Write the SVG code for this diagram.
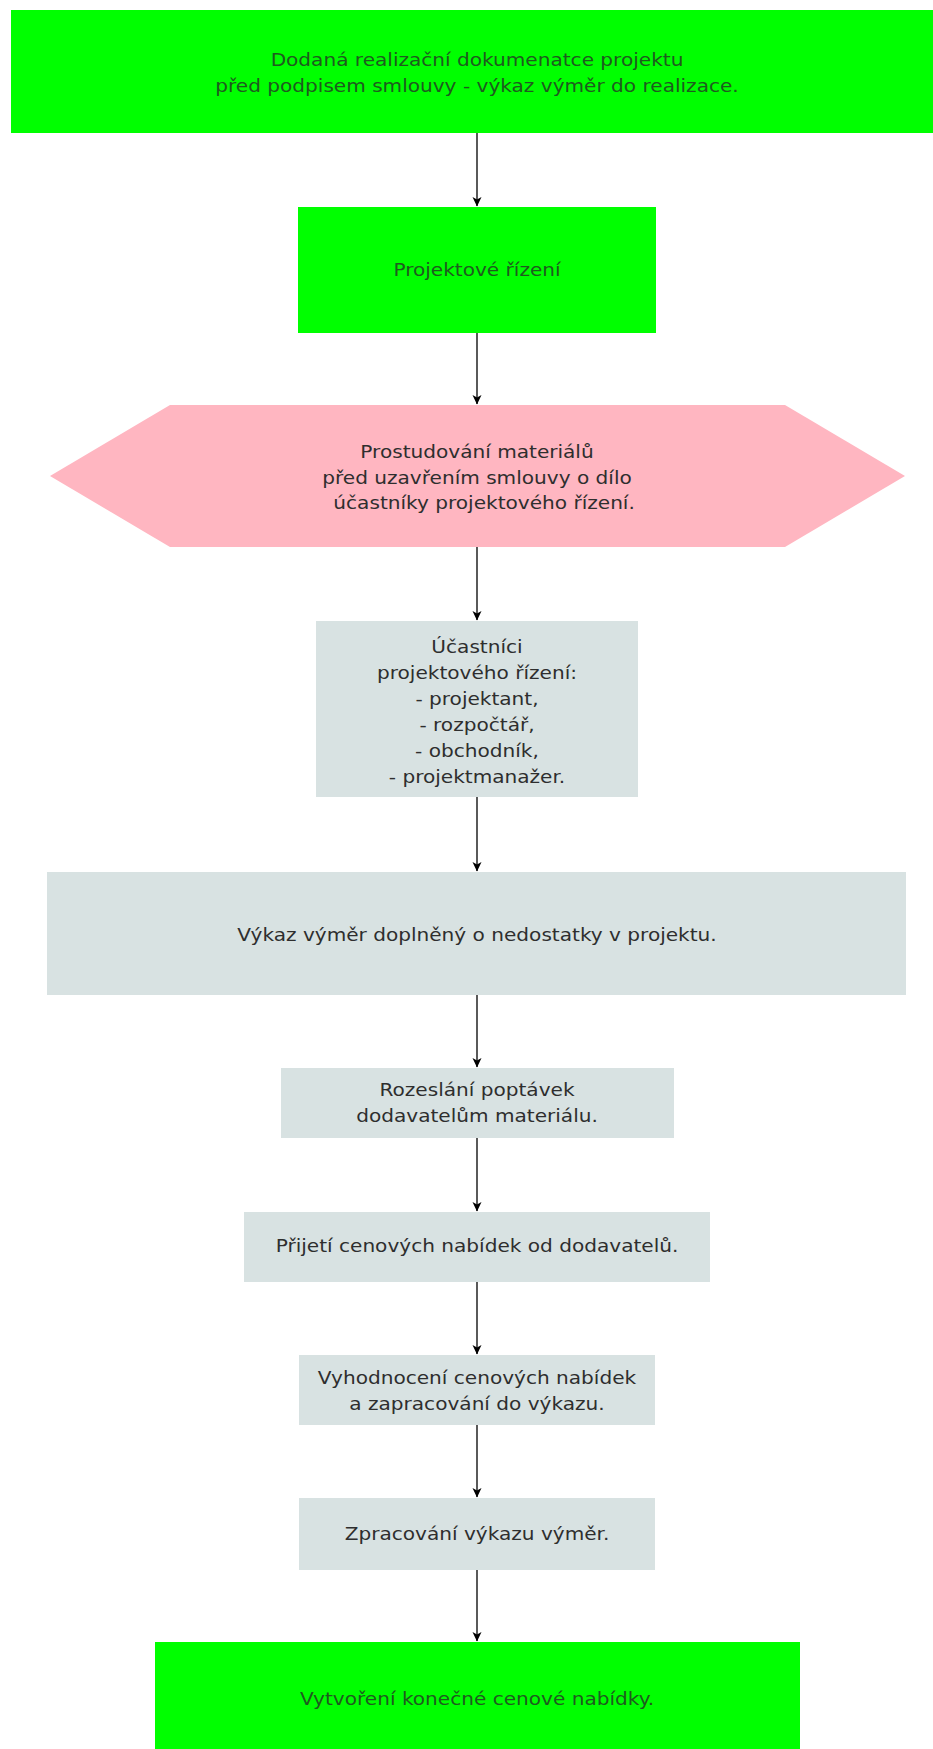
<svg xmlns="http://www.w3.org/2000/svg" width="933" height="1749" viewBox="0 0 933 1749">
<style>
.g{fill:#00ff00}
.p{fill:#ffb6c1}
.s{fill:#d8e2e2}
text{font-family:"DejaVu Sans","Liberation Sans",sans-serif;font-size:18px;text-anchor:middle}
.tg{fill:#1f5a1f}
.ts{fill:#2e2e2e}
.c{stroke:#000;stroke-width:1.3;fill:none}
</style>
<defs>
<marker id="ah" markerWidth="10" markerHeight="10" refX="9" refY="5" orient="auto" markerUnits="userSpaceOnUse">
<path d="M0,0.5 L9.5,5 L0,9.5 L2.5,5 z" fill="#000"/>
</marker>
</defs>
<rect width="933" height="1749" fill="#fff"/>
<g id="n1">
<rect class="g" x="11" y="10" width="922" height="123"/>
<text class="tg" transform="translate(477,66) scale(1.116,1)"><tspan x="0" y="0">Dodaná realizační dokumenatce projektu</tspan><tspan x="0" y="26">před podpisem smlouvy - výkaz výměr do realizace.</tspan></text>
</g>
<g id="n2">
<rect class="g" x="298" y="207" width="358" height="126"/>
<text class="tg" transform="translate(477,276) scale(1.116,1)">Projektové řízení</text>
</g>
<g id="n3">
<polygon class="p" points="50,476 170,405 785,405 905,476 785,547 170,547"/>
<text class="ts" transform="translate(477,458) scale(1.116,1)"><tspan x="0" y="0">Prostudování materiálů</tspan><tspan x="0" y="26">před uzavřením smlouvy o dílo</tspan><tspan x="3.5" y="51"> účastníky projektového řízení.</tspan></text>
</g>
<g id="n4">
<rect class="s" x="316" y="621" width="322" height="176"/>
<text class="ts" transform="translate(477,653) scale(1.116,1)"><tspan x="0" y="0">Účastníci</tspan><tspan x="0" y="26">projektového řízení:</tspan><tspan x="0" y="52">- projektant,</tspan><tspan x="0" y="78">- rozpočtář,</tspan><tspan x="0" y="104">- obchodník,</tspan><tspan x="0" y="130">- projektmanažer.</tspan></text>
</g>
<g id="n5">
<rect class="s" x="47" y="872" width="859" height="123"/>
<text class="ts" transform="translate(477,941) scale(1.116,1)">Výkaz výměr doplněný o nedostatky v projektu.</text>
</g>
<g id="n6">
<rect class="s" x="281" y="1068" width="393" height="70"/>
<text class="ts" transform="translate(477,1096) scale(1.116,1)"><tspan x="0" y="0">Rozeslání poptávek</tspan><tspan x="0" y="26">dodavatelům materiálu.</tspan></text>
</g>
<g id="n7">
<rect class="s" x="244" y="1212" width="466" height="70"/>
<text class="ts" transform="translate(477,1252) scale(1.116,1)">Přijetí cenových nabídek od dodavatelů.</text>
</g>
<g id="n8">
<rect class="s" x="299" y="1355" width="356" height="70"/>
<text class="ts" transform="translate(477,1384) scale(1.116,1)"><tspan x="0" y="0">Vyhodnocení cenových nabídek</tspan><tspan x="0" y="26">a zapracování do výkazu.</tspan></text>
</g>
<g id="n9">
<rect class="s" x="299" y="1498" width="356" height="72"/>
<text class="ts" transform="translate(477,1540) scale(1.116,1)">Zpracování výkazu výměr.</text>
</g>
<g id="n10">
<rect class="g" x="155" y="1642" width="645" height="107"/>
<text class="tg" transform="translate(477,1705) scale(1.116,1)">Vytvoření konečné cenové nabídky.</text>
</g>
<g id="connectors">
<line class="c" x1="477" y1="133" x2="477" y2="206" marker-end="url(#ah)"/>
<line class="c" x1="477" y1="333" x2="477" y2="404" marker-end="url(#ah)"/>
<line class="c" x1="477" y1="547" x2="477" y2="620" marker-end="url(#ah)"/>
<line class="c" x1="477" y1="797" x2="477" y2="871" marker-end="url(#ah)"/>
<line class="c" x1="477" y1="995" x2="477" y2="1067" marker-end="url(#ah)"/>
<line class="c" x1="477" y1="1138" x2="477" y2="1211" marker-end="url(#ah)"/>
<line class="c" x1="477" y1="1282" x2="477" y2="1354" marker-end="url(#ah)"/>
<line class="c" x1="477" y1="1425" x2="477" y2="1497" marker-end="url(#ah)"/>
<line class="c" x1="477" y1="1570" x2="477" y2="1641" marker-end="url(#ah)"/>
</g>
</svg>
